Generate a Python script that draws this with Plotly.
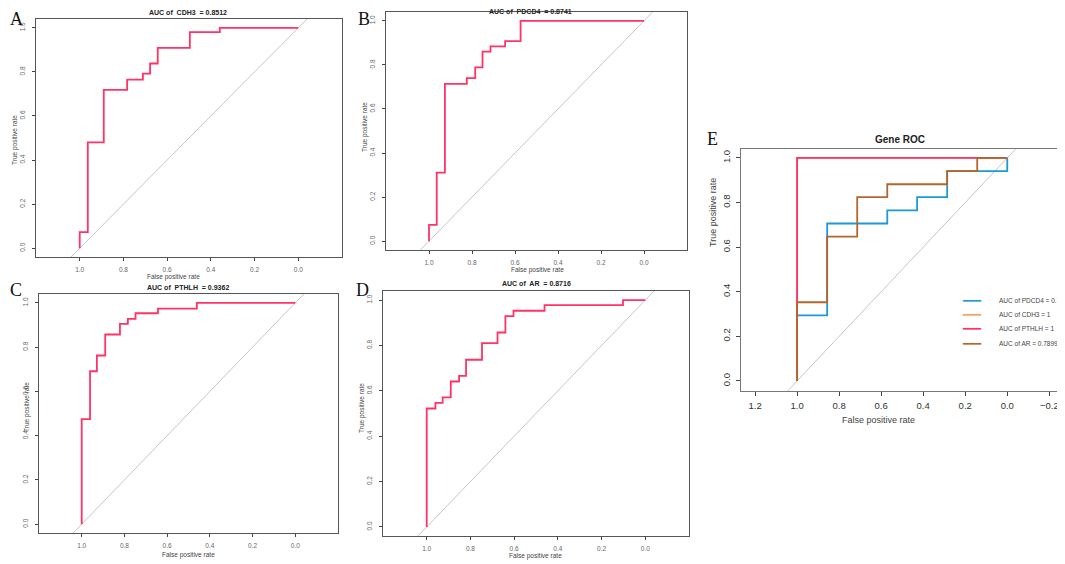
import plotly.graph_objects as go

# the page body keeps an 8 px margin, so the figure is made smaller and every
# pixel position below is given in window pixels and shifted by OFF
OFF = 8
W, H = 1065 - OFF, 564 - OFF

# ROC points (x = reversed axis value shown as "False positive rate", y = true positive rate)
cdh3_x = [1.0, 0.963, 0.890, 0.783, 0.711, 0.678, 0.643, 0.496, 0.359, 0.0]
cdh3_y = [0.0, 0.073, 0.480, 0.718, 0.765, 0.792, 0.838, 0.909, 0.980, 1.0]

pdcd4_x = [1.0, 0.964, 0.926, 0.824, 0.785, 0.751, 0.714, 0.646, 0.574, 0.0]
pdcd4_y = [0.0, 0.074, 0.311, 0.714, 0.740, 0.789, 0.860, 0.884, 0.908, 1.0]

pthlh_x = [1.0, 0.961, 0.929, 0.890, 0.821, 0.784, 0.748, 0.643, 0.461, 0.0]
pthlh_y = [0.0, 0.475, 0.691, 0.762, 0.857, 0.905, 0.928, 0.953, 0.974, 1.0]

ar_x = [1.0, 0.960, 0.927, 0.890, 0.852, 0.820, 0.747, 0.676, 0.640, 0.603, 0.461, 0.102, 0.0]
ar_y = [0.0, 0.522, 0.547, 0.571, 0.641, 0.666, 0.737, 0.810, 0.857, 0.929, 0.953, 0.978, 1.0]

# combined panel (gene ROC)
e_pdcd4_x = [1.0, 0.857, 0.571, 0.429, 0.286, 0.0, 0.0]
e_pdcd4_y = [0.0, 0.294, 0.706, 0.765, 0.824, 0.941, 1.0]
e_cdh3_x = [1.0, 0.0]
e_cdh3_y = [0.0, 1.0]
e_pthlh_x = [1.0, 0.0]
e_pthlh_y = [0.0, 1.0]
e_ar_x = [1.0, 0.857, 0.714, 0.571, 0.286, 0.143, 0.0]
e_ar_y = [0.0, 0.353, 0.647, 0.824, 0.882, 0.941, 1.0]

titles = ["AUC of  CDH3  = 0.8512", "AUC of  PDCD4  = 0.8741", "AUC of  PTHLH  = 0.9362",
          "AUC of  AR  = 0.8716", "Gene ROC"]
legend_names = ["AUC of PDCD4 = 0.7395", "AUC of CDH3 = 1", "AUC of PTHLH = 1", "AUC of AR = 0.7899"]
tick_vals = [0.0, 0.2, 0.4, 0.6, 0.8, 1.0]
e_tick_vals = [-0.2, 0.0, 0.2, 0.4, 0.6, 0.8, 1.0, 1.2]

RED = "#FF3366"
colors_e = ["#1B9AD6", "#F6A15A", "#FF3366", "#B5652B"]

# panel boxes in window pixels: left, right, top, bottom
boxes = [(36, 342, 19, 257), (386, 687, 12, 250), (39, 338, 294, 533),
         (383, 689, 291, 536), (741, 1064, 149, 391)]
xranges = [[1.2, -0.2]] * 4 + [[1.267, -0.27]]
yranges = [[-0.04, 1.04]] * 4 + [[-0.045, 1.04]]


def px(p):
    return (p - OFF) / W


def py(p):
    return 1 - (p - OFF) / H


fig = go.Figure()

single = [(cdh3_x, cdh3_y), (pdcd4_x, pdcd4_y), (pthlh_x, pthlh_y), (ar_x, ar_y)]
for i, (xs, ys) in enumerate(single):
    n = "" if i == 0 else str(i + 1)
    fig.add_trace(go.Scatter(x=[1.3, -0.3], y=[-0.3, 1.3], mode="lines",
                             line=dict(color="#C6C6C6", width=1), showlegend=False,
                             xaxis="x" + n, yaxis="y" + n, hoverinfo="skip"))
    fig.add_trace(go.Scatter(x=xs, y=ys, mode="lines", line=dict(color=RED, width=1.8, shape="vh"),
                             showlegend=False, xaxis="x" + n, yaxis="y" + n))

fig.add_trace(go.Scatter(x=[1.3, -0.3], y=[-0.3, 1.3], mode="lines",
                         line=dict(color="#C6C6C6", width=1), showlegend=False,
                         xaxis="x5", yaxis="y5", hoverinfo="skip"))
e_curves = [(e_pdcd4_x, e_pdcd4_y), (e_cdh3_x, e_cdh3_y), (e_pthlh_x, e_pthlh_y), (e_ar_x, e_ar_y)]
for (xs, ys), c, name in zip(e_curves, colors_e, legend_names):
    fig.add_trace(go.Scatter(x=xs, y=ys, mode="lines", name=name, showlegend=False,
                             line=dict(color=c, width=1.8, shape="vh"),
                             xaxis="x5", yaxis="y5"))

layout = dict(
    width=W, height=H,
    margin=dict(l=0, r=0, t=0, b=0, autoexpand=False),
    paper_bgcolor="white", plot_bgcolor="white",
    font=dict(family="Liberation Sans, Arial, sans-serif", color="#333"),
    showlegend=False,
)

for i in range(5):
    n = "" if i == 0 else str(i + 1)
    l, r, t, b = boxes[i]
    big = i == 4
    tfont = dict(size=9.5 if big else 6.5, color="#333" if big else "#666")
    layout["xaxis" + n] = dict(
        domain=[px(l), px(r)], range=xranges[i], anchor="y" + n,
        tickvals=e_tick_vals if big else tick_vals, tickformat=".1f",
        ticks="outside", ticklen=4 if big else 3, tickcolor="#444",
        ticklabelstandoff=2 if big else 3,
        showline=True, mirror=True, linecolor="#777" if big else "#555", linewidth=1,
        showgrid=False, zeroline=False, tickfont=tfont,
    )
    layout["yaxis" + n] = dict(
        domain=[py(b), py(t)], range=yranges[i], anchor="x" + n,
        tickvals=tick_vals, tickformat=".1f", tickangle=-90,
        ticks="outside", ticklen=4 if big else 3, tickcolor="#444",
        ticklabelstandoff=2 if big else 4,
        showline=True, mirror=True, linecolor="#777" if big else "#555", linewidth=1,
        showgrid=False, zeroline=False, tickfont=tfont,
    )

fig.update_layout(**layout)

# panel titles
title_pos = [(188, 13), (530, 12), (188, 287), (536, 283), (900, 139)]
for (x, y), t, i in zip(title_pos, titles, range(5)):
    fig.add_annotation(x=px(x), y=py(y), xref="paper", yref="paper", text="<b>" + t + "</b>",
                       showarrow=False, xanchor="center", yanchor="middle",
                       font=dict(size=10 if i == 4 else 7, color="#222"))

# axis titles
xt_pos = [(173, 277), (537, 270), (188, 555), (535, 556), (878, 420)]
yt_pos = [(15, 140), (365, 127), (27, 407), (362, 408), (713, 213)]
for i in range(5):
    fs = 9 if i == 4 else 6.5
    fig.add_annotation(x=px(xt_pos[i][0]), y=py(xt_pos[i][1]), xref="paper", yref="paper",
                       text="False positive rate", showarrow=False, xanchor="center", yanchor="middle",
                       font=dict(size=fs, color="#444"))
    fig.add_annotation(x=px(yt_pos[i][0]), y=py(yt_pos[i][1]), xref="paper", yref="paper",
                       text="True positive rate", showarrow=False, textangle=-90,
                       xanchor="center", yanchor="middle", font=dict(size=fs, color="#444"))

# legend of panel E (keys drawn as text glyphs)
legend_rows = [300, 314, 328, 343]
for name, c, y in zip(legend_names, colors_e, legend_rows):
    fig.add_annotation(x=px(960), y=py(y), xref="paper", yref="paper", text="━━━",
                       showarrow=False, xanchor="left", yanchor="middle",
                       font=dict(family="DejaVu Sans", size=10, color=c))
    fig.add_annotation(x=px(997), y=py(y), xref="paper", yref="paper", text=name,
                       showarrow=False, xanchor="left", yanchor="middle",
                       font=dict(size=6.5, color="#444"))

# panel letters
letters = ["A", "B", "C", "D", "E"]
letter_pos = [(16, 19), (364, 19), (16, 290), (362, 290), (712, 139)]
for s, (x, y) in zip(letters, letter_pos):
    fig.add_annotation(x=px(x), y=py(y), xref="paper", yref="paper", text=s, showarrow=False,
                       xanchor="center", yanchor="middle",
                       font=dict(family="Liberation Serif, Times New Roman, serif", size=18, color="#111"))

fig.write_html("out.html")
